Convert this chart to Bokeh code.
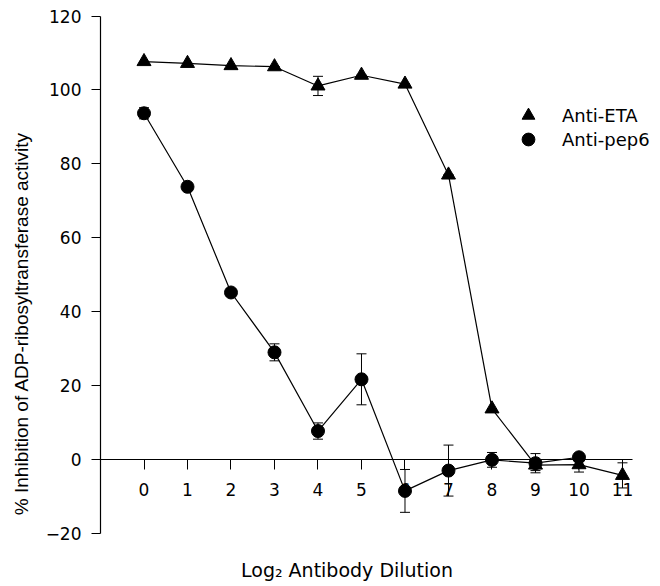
import math
from bokeh.plotting import figure
from bokeh.models import (ColumnDataSource, FixedTicker, Whisker, TeeHead, Label,
                          Legend, LegendItem, Range1d)
from bokeh.embed import file_html
from bokeh.resources import INLINE

# ---- data ----
eta_dilution = [0, 1, 2, 3, 4, 5, 6, 7, 8, 9, 10, 11]
anti_eta = [107.7, 107.2, 106.6, 106.3, 101.1, 104.0, 101.6, 77.0, 13.7, -1.5, -1.4, -4.3]
anti_eta_err = [0.0, 0.0, 0.0, 0.0, 2.6, 0.0, 0.0, 0.0, 0.0, 1.5, 2.0, 3.4]

pep6_dilution = [0, 1, 2, 3, 4, 5, 6, 7, 8, 9, 10]
anti_pep6 = [93.7, 73.8, 45.2, 29.0, 7.7, 21.7, -8.5, -3.0, -0.1, -1.0, 0.6]
anti_pep6_err = [1.5, 1.0, 1.0, 2.3, 2.2, 6.9, 5.8, 6.9, 2.0, 2.6, 1.0]

x_ticks = [0, 1, 2, 3, 4, 5, 6, 7, 8, 9, 10, 11]
x_tick_labels = ["0", "1", "2", "3", "4", "5", "6", "7", "8", "9", "10", "11"]
y_ticks = [-20, 0, 20, 40, 60, 80, 100, 120]

series_names = ["Anti-ETA", "Anti-pep6"]
x_title = "Log\u2082 Antibody Dilution"
y_title = "% Inhibition of ADP-ribosyltransferase activity"

eta_src = ColumnDataSource(dict(
    x=eta_dilution, y=anti_eta,
    upper=[v + e for v, e in zip(anti_eta, anti_eta_err)],
    lower=[v - e for v, e in zip(anti_eta, anti_eta_err)]))
pep_src = ColumnDataSource(dict(
    x=pep6_dilution, y=anti_pep6,
    upper=[v + e for v, e in zip(anti_pep6, anti_pep6_err)],
    lower=[v - e for v, e in zip(anti_pep6, anti_pep6_err)]))

W, H = 656, 584
p = figure(width=W, height=H,
           x_range=Range1d(-3.299, 11.782), y_range=Range1d(-33.83, 124.22),
           output_backend="svg", toolbar_location=None, title=None,
           min_border=0, min_border_left=0, min_border_right=0,
           min_border_top=0, min_border_bottom=0)
p.outline_line_color = None
p.background_fill_color = "white"
p.border_fill_color = "white"
p.xgrid.visible = False
p.ygrid.visible = False

FONT = "DejaVu Sans"

# x axis drawn through y = 0
xa = p.xaxis[0]
xa.fixed_location = 0
xa.bounds = (-1.0, 11.23)
xa.ticker = FixedTicker(ticks=x_ticks)
xa.major_label_overrides = dict(zip(x_ticks, x_tick_labels))
xa.major_tick_in = 0
xa.major_tick_out = 10
xa.minor_tick_in = 0
xa.minor_tick_out = 0
xa.major_label_standoff = 14
xa.major_label_text_font = FONT
xa.major_label_text_font_size = "17px"
xa.major_label_text_color = "black"
xa.axis_line_color = "black"
xa.axis_line_width = 1.2
xa.major_tick_line_color = "black"
xa.level = "underlay"

# y axis drawn at x = -1
ya = p.yaxis[0]
ya.fixed_location = -1.0
ya.bounds = (-20, 120)
ya.ticker = FixedTicker(ticks=y_ticks)
ya.major_tick_in = 0
ya.major_tick_out = 9
ya.minor_tick_in = 0
ya.minor_tick_out = 0
ya.major_label_standoff = 10
ya.major_label_text_font = FONT
ya.major_label_text_font_size = "17px"
ya.major_label_text_color = "black"
ya.axis_line_color = "black"
ya.axis_line_width = 1.2
ya.major_tick_line_color = "black"

# error bars
for src in (eta_src, pep_src):
    w = Whisker(base="x", upper="upper", lower="lower", source=src,
                line_color="black", line_width=1,
                upper_head=TeeHead(size=10, line_color="black", line_width=1),
                lower_head=TeeHead(size=10, line_color="black", line_width=1),
                level="underlay")
    p.add_layout(w)

p.line("x", "y", source=eta_src, line_color="black", line_width=1.2)
p.line("x", "y", source=pep_src, line_color="black", line_width=1.2)
eta_r = p.scatter("x", "y", source=eta_src, marker="triangle", size=14,
                  fill_color="black", line_color="black")
pep_r = p.scatter("x", "y", source=pep_src, marker="circle", size=13,
                  fill_color="black", line_color="black")

legend_style = dict(glyph_width=32, glyph_height=32, spacing=0,
                    label_standoff=18, padding=0, margin=0,
                    border_line_color=None, background_fill_alpha=0,
                    label_text_font=FONT, label_text_font_size="18px",
                    label_text_color="black")
p.add_layout(Legend(items=[LegendItem(label=series_names[0], renderers=[eta_r])],
                    location=(512, 453), **legend_style))
p.add_layout(Legend(items=[LegendItem(label=series_names[1], renderers=[pep_r])],
                    location=(512, 429), **legend_style))

p.add_layout(Label(x=-2.81, y=36.8, text=y_title, angle=math.pi / 2,
                   text_align="center", text_baseline="alphabetic",
                   text_font="Liberation Sans", text_font_size="19px",
                   text_color="black"))
p.add_layout(Label(x=4.667, y=-30.0, text=x_title,
                   text_align="center", text_baseline="alphabetic",
                   text_font=FONT, text_font_size="19px", text_color="black"))

open("out.html", "w").write(file_html(p, INLINE))
